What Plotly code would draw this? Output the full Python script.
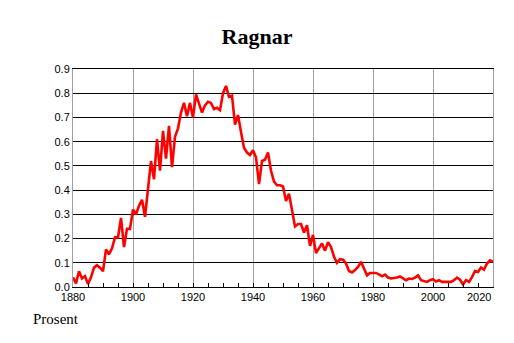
import plotly.graph_objects as go

years = list(range(1880, 2021))
values = [
    0.04, 0.015, 0.065, 0.035, 0.045, 0.012, 0.04, 0.08, 0.09, 0.08,
    0.065, 0.155, 0.135, 0.16, 0.205, 0.205, 0.285, 0.165, 0.24, 0.24,
    0.32, 0.30, 0.335, 0.36, 0.29, 0.40, 0.52, 0.445, 0.61, 0.48,
    0.645, 0.53, 0.665, 0.495, 0.62, 0.655, 0.72, 0.76, 0.705, 0.76,
    0.70, 0.795, 0.76, 0.72, 0.75, 0.765, 0.76, 0.735, 0.74, 0.73,
    0.80, 0.83, 0.785, 0.79, 0.67, 0.71, 0.64, 0.575, 0.555, 0.545,
    0.565, 0.535, 0.425, 0.52, 0.525, 0.555, 0.48, 0.435, 0.42, 0.42,
    0.415, 0.355, 0.385, 0.31, 0.25, 0.26, 0.26, 0.225, 0.255, 0.17,
    0.215, 0.14, 0.16, 0.18, 0.15, 0.185, 0.165, 0.125, 0.10, 0.115,
    0.113, 0.097, 0.066, 0.06, 0.07, 0.083, 0.104, 0.076, 0.048, 0.058,
    0.058, 0.058, 0.052, 0.044, 0.051, 0.039, 0.035, 0.036, 0.039, 0.044,
    0.035, 0.028, 0.035, 0.033, 0.039, 0.048, 0.028, 0.023, 0.021, 0.028,
    0.032, 0.023, 0.028, 0.021, 0.021, 0.019, 0.021, 0.028, 0.039, 0.030,
    0.011, 0.028, 0.021, 0.041, 0.066, 0.062, 0.08, 0.072, 0.097, 0.11,
    0.104,
]

x_ticks = [1880, 1900, 1920, 1940, 1960, 1980, 2000]
x_tick_labels = ["1880", "1900", "1920", "1940", "1960", "1980", "2000"]
y_ticks = [0.0, 0.1, 0.2, 0.3, 0.4, 0.5, 0.6, 0.7, 0.8, 0.9]
y_tick_labels = ["0.0", "0.1", "0.2", "0.3", "0.4", "0.5", "0.6", "0.7", "0.8", "0.9"]
last_label = "2020"
title = "Ragnar"
y_title = "Prosent"

# page body adds an 8px margin, so the figure is sized to fit inside it
W, H = 506, 335
L, R, T, B = 65, 21, 61, 56
PW, PH = W - L - R, H - T - B

fig = go.Figure()
fig.add_trace(go.Scatter(
    x=years, y=values, mode="lines",
    line=dict(color="#ff0000", width=2.6),
    hoverinfo="skip",
))

tick_font = dict(family="Liberation Sans, Arial, sans-serif", size=11, color="#000000")

fig.update_layout(
    width=W, height=H,
    margin=dict(l=L, r=R, t=T, b=B),
    paper_bgcolor="white", plot_bgcolor="white",
    showlegend=False,
    title=dict(
        text="<b>" + title + "</b>", x=249 / W, xanchor="center",
        y=1 - 28 / H, yanchor="middle",
        font=dict(family="Liberation Serif, Times New Roman, serif", size=22, color="#000000"),
    ),
    xaxis=dict(
        range=[1880, 2020],
        tickvals=x_ticks, ticktext=x_tick_labels,
        ticks="inside", ticklen=4, tickcolor="#000000",
        minor=dict(dtick=5, tick0=1880, ticks="inside", ticklen=4, tickcolor="#000000", showgrid=False),
        showgrid=True, gridcolor="#a0a0a0", gridwidth=1,
        showline=True, linecolor="#000000", linewidth=1, mirror=True,
        zeroline=False, tickfont=tick_font,
    ),
    yaxis=dict(
        range=[0, 0.9],
        tickvals=y_ticks, ticktext=y_tick_labels,
        ticks="", showgrid=True, gridcolor="#000000", gridwidth=1,
        showline=True, linecolor="#a0a0a0", linewidth=1, mirror=True,
        zeroline=False, tickfont=tick_font,
    ),
    annotations=[
        dict(text=last_label, x=2020, xref="x", y=0, yref="paper",
             xanchor="right", yanchor="top", yshift=-2, showarrow=False,
             font=tick_font),
        dict(text=y_title, x=(23 - L) / PW, xref="paper", y=-(311 - (T + PH)) / PH, yref="paper",
             xanchor="left", yanchor="middle", showarrow=False,
             font=dict(family="Liberation Serif, Times New Roman, serif", size=15, color="#000000")),
    ],
)

fig.write_html("out.html")
